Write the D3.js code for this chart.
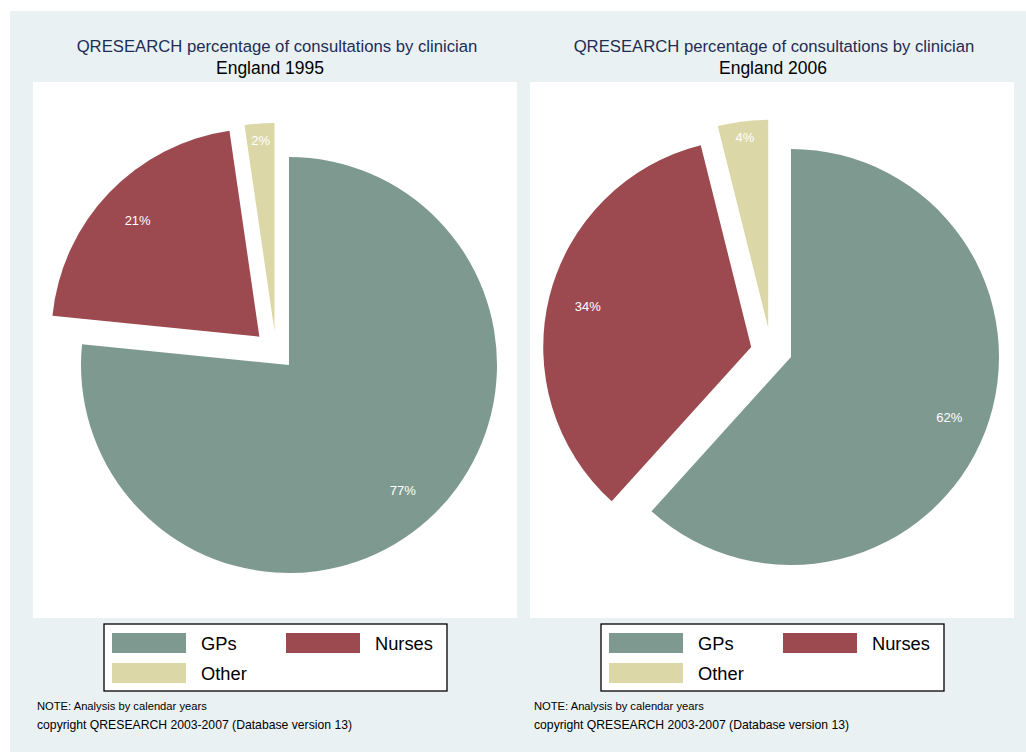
<!DOCTYPE html>
<html>
<head>
<meta charset="utf-8">
<script src="https://cdn.jsdelivr.net/npm/d3@7"></script>
<style>
  body { margin:0; background:#fff; }
  text { font-family:"Liberation Sans", Arial, sans-serif; }
</style>
</head>
<body>
<svg id="chart" width="1026" height="752"></svg>
<script>
// data
var categories = ["GPs", "Nurses", "Other"];
var years = ["1995", "2006"];
var share1995 = [76.6, 21.1, 2.3];
var share2006 = [61.7, 34.4, 3.9];
var titleText = "QRESEARCH percentage of consultations by clinician";
var noteLines = ["NOTE: Analysis by calendar years",
                 "copyright QRESEARCH 2003-2007 (Database version 13)"];

var colors = {"GPs":"#7E9A90", "Nurses":"#9C4A50", "Other":"#DBD7A7"};

// layout
var radius = 208;
var explodeDist = [0, 41, 37];
var explodeBlend = [0, 0, 0.45];   // pull small slice toward previous slice's direction
var labelR = [0.815, 0.81, 0.92];
var noteSize = [11.2, 12.2];
var panels = [
    {x0:33,  cx:289, cy:365, values:share1995, year:years[0], subX:270},
    {x0:530, cx:791, cy:357, values:share2006, year:years[1], subX:773}
];
var plotW = 484, plotTop = 82, plotBottom = 618;

var svg = d3.select("#chart");

svg.append("rect")
    .attr("x",10).attr("y",11)
    .attr("width",1016).attr("height",741)
    .attr("fill","#EAF1F3");

var pie = d3.pie().sort(null).value(function(d) { return d.v; });
var arc = d3.arc().innerRadius(0).outerRadius(radius);

panels.forEach(function(p) {
    var g = svg.append("g");
    var midX = p.x0 + plotW/2;

    //plot area
    g.append("rect")
        .attr("x",p.x0).attr("y",plotTop)
        .attr("width",plotW).attr("height",plotBottom-plotTop)
        .attr("fill","white");

    g.append("text")
        .attr("x",midX+2).attr("y",52)
        .attr("text-anchor","middle")
        .attr("font-size",16.7)
        .attr("fill","#1E2D53")
        .text(titleText);
    g.append("text")
        .attr("x",p.subX).attr("y",74)
        .attr("text-anchor","middle")
        .attr("font-size",17.5)
        .attr("fill","#000")
        .text("England " + p.year);

    var arcs = pie(categories.map(function(c,i) { return {c:c, v:p.values[i]}; }));

    var slices = g.append("g")
        .attr("transform","translate(" + p.cx + "," + p.cy + ")")
        .selectAll("g.slice")
        .data(arcs)
        .enter().append("g")
        .attr("class","slice")
        .attr("transform", function(d,i) {
            var mid = (d.startAngle + d.endAngle)/2;
            var dir = mid;
            if (i > 0 && explodeBlend[i] > 0) {
                var prev = arcs[i-1];
                var prevMid = (prev.startAngle + prev.endAngle)/2;
                dir = mid*(1-explodeBlend[i]) + prevMid*explodeBlend[i];
            }
            var dx = Math.sin(dir)*explodeDist[i];
            var dy = -Math.cos(dir)*explodeDist[i];
            return "translate(" + dx + "," + dy + ")";
        });

    slices.append("path")
        .attr("d", arc)
        .attr("fill", function(d) { return colors[d.data.c]; });

    slices.append("text")
        .attr("x", function(d,i) { return Math.sin((d.startAngle+d.endAngle)/2)*radius*labelR[i]; })
        .attr("y", function(d,i) { return -Math.cos((d.startAngle+d.endAngle)/2)*radius*labelR[i]; })
        .attr("dy","0.35em")
        .attr("text-anchor","middle")
        .attr("font-size",13)
        .attr("fill","white")
        .text(function(d) { return Math.round(d.data.v) + "%"; });

    //legend
    var lx = midX - 171;
    var leg = g.append("g").attr("transform","translate(" + lx + ",624)");
    leg.append("rect")
        .attr("x",0).attr("y",0)
        .attr("width",343).attr("height",67)
        .attr("fill","white").attr("stroke","#000").attr("stroke-width",1.3);

    var items = leg.selectAll("g.item")
        .data(categories)
        .enter().append("g")
        .attr("class","item")
        .attr("transform", function(d,i) {
            return "translate(" + (8 + (i%2)*174) + "," + (9 + Math.floor(i/2)*30) + ")";
        });
    items.append("rect")
        .attr("width",74).attr("height",20)
        .attr("fill", function(d) { return colors[d]; });
    items.append("text")
        .attr("x",89).attr("y",17)
        .attr("font-size",18.3)
        .attr("fill","#000")
        .text(function(d) { return d; });

    g.selectAll("text.note")
        .data(noteLines)
        .enter().append("text")
        .attr("class","note")
        .attr("x",p.x0+4)
        .attr("y", function(d,i) { return 710 + i*19; })
        .attr("font-size", function(d,i) { return noteSize[i]; })
        .attr("fill","#000")
        .text(function(d) { return d; });
});
</script>
</body>
</html>
